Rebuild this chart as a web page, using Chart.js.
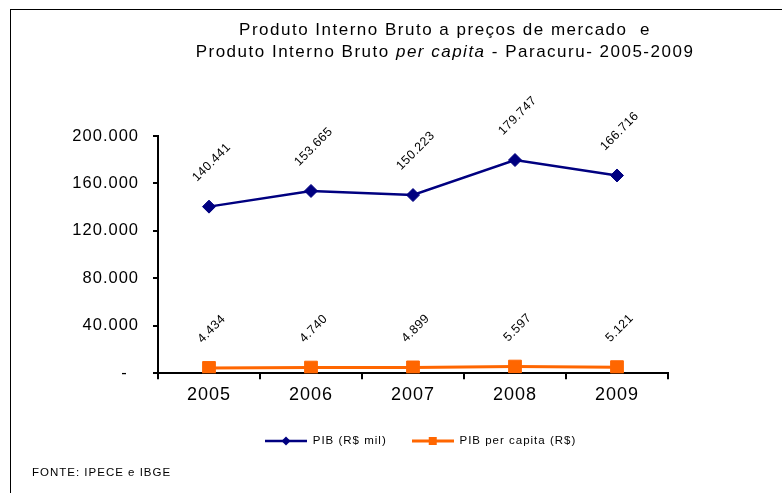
<!DOCTYPE html>
<html>
<head>
<meta charset="utf-8">
<script src="https://cdn.jsdelivr.net/npm/chart.js@4.4.1/dist/chart.umd.min.js"></script>
<style>
html,body{margin:0;padding:0;background:#fff;}
#wrap{position:relative;width:782px;height:493px;overflow:hidden;}
#frame{position:absolute;left:10px;top:9px;width:800px;height:500px;border-top:1.5px solid #000;border-left:1.5px solid #000;pointer-events:none;}
canvas{position:absolute;left:0;top:0;}
</style>
</head>
<body>
<div id="wrap"><canvas id="c" width="782" height="493"></canvas><div id="frame"></div></div>
<script>
// ---- data ----
const years = ['2005', '2006', '2007', '2008', '2009'];
const pibValues = [140441, 153665, 150223, 179747, 166716];
const perCapitaValues = [4434, 4740, 4899, 5597, 5121];
const seriesNames = ['PIB (R$ mil)', 'PIB per capita (R$)'];
const yTickValues = [0, 40000, 80000, 120000, 160000, 200000];
const titleLine1 = 'Produto Interno Bruto a preços de mercado  e';
const titleLine2a = 'Produto Interno Bruto ';
const titleLine2b = 'per capita';
const titleLine2c = ' - Paracuru- 2005-2009';
const sourceText = 'FONTE: IPECE e IBGE';

// ---- styling ----
const FONT = '"Liberation Sans", Arial, Helvetica, sans-serif';
const NAVY = '#000080';
const ORANGE = '#FF6600';

function fmt(v) {
  if (v === 0) return '-  ';
  return String(v).replace(/\B(?=(\d{3})+(?!\d))/g, '.');
}

function makeMarker(color, lw, shape) {
  const c = document.createElement('canvas');
  c.width = 42; c.height = 12;
  const g = c.getContext('2d');
  g.strokeStyle = color; g.lineWidth = lw;
  g.beginPath(); g.moveTo(0, 6); g.lineTo(42, 6); g.stroke();
  g.fillStyle = color;
  g.beginPath();
  if (shape === 'diamond') {
    g.moveTo(21 - 4.5, 6); g.lineTo(21, 1.5); g.lineTo(21 + 4.5, 6); g.lineTo(21, 10.5);
  } else {
    g.rect(17, 2, 8, 8);
  }
  g.closePath(); g.fill();
  return c;
}
const markers = [makeMarker(NAVY, 2.5, 'diamond'), makeMarker(ORANGE, 3, 'square')];

const TITLE_CX = 445;
const TITLE_LH = 22.1;
const TITLE_PADTOP = 19;

const helperPlugin = {
  id: 'helper',
  afterLayout(chart) {
    const lg = chart.legend;
    if (lg) { lg.left = 240; lg.right = 240 + (lg.width || 400); }
    const tb = chart.titleBlock;
    if (tb && !tb._custom) {
      tb._custom = true;
      tb.draw = function () {
        const ctx = this.ctx;
        ctx.save();
        ctx.fillStyle = '#000';
        ctx.textBaseline = 'middle';
        ctx.textAlign = 'left';
        try { ctx.letterSpacing = '1.5px'; } catch (e) {}
        const lines = [
          [[titleLine1, false]],
          [[titleLine2a, false], [titleLine2b, true], [titleLine2c, false]]
        ];
        lines.forEach((segs, i) => {
          const y = this.top + TITLE_PADTOP + TITLE_LH * (i + 0.5);
          const fonts = segs.map(s => (s[1] ? 'italic ' : '') + '17px ' + FONT);
          let total = 0;
          segs.forEach((s, j) => { ctx.font = fonts[j]; total += ctx.measureText(s[0]).width; });
          let x = TITLE_CX - total / 2;
          segs.forEach((s, j) => { ctx.font = fonts[j]; ctx.fillText(s[0], x, y); x += ctx.measureText(s[0]).width; });
        });
        ctx.restore();
      };
    }
  },
  beforeDraw(chart) {
    try { chart.ctx.letterSpacing = '1px'; } catch (e) {}
  },
  afterDatasetsDraw(chart) {
    const ctx = chart.ctx;
    ctx.save();
    const fs = 12.5;
    ctx.font = fs + 'px ' + FONT;
    ctx.fillStyle = '#000';
    ctx.textAlign = 'center';
    ctx.textBaseline = 'middle';
    try { ctx.letterSpacing = '0.5px'; } catch (e) {}
    chart.data.datasets.forEach((ds, di) => {
      const meta = chart.getDatasetMeta(di);
      meta.data.forEach((pt, i) => {
        const txt = fmt(ds.data[i]);
        const w = ctx.measureText(txt).width;
        const half = (w + 0.716 * fs) * Math.SQRT1_2 / 2;
        const cx = pt.x + 2;
        const cy = pt.y - 24.5 - half;
        ctx.save();
        ctx.translate(cx, cy);
        ctx.rotate(-Math.PI / 4);
        ctx.fillText(txt, 0, 1);
        ctx.restore();
      });
    });
    ctx.restore();
  },
  afterDraw(chart) {
    try { chart.ctx.letterSpacing = '0px'; } catch (e) {}
  }
};

new Chart(document.getElementById('c'), {
  type: 'line',
  data: {
    labels: years,
    datasets: [
      {
        label: seriesNames[0],
        data: pibValues,
        borderColor: NAVY,
        backgroundColor: NAVY,
        borderWidth: 2.5,
        pointStyle: 'rectRot',
        pointRadius: 6.5,
        pointBackgroundColor: NAVY,
        pointBorderColor: NAVY,
        pointBorderWidth: 1,
        tension: 0,
        fill: false
      },
      {
        label: seriesNames[1],
        data: perCapitaValues,
        borderColor: ORANGE,
        backgroundColor: ORANGE,
        borderWidth: 3,
        pointStyle: 'rect',
        pointRadius: 9,
        pointBackgroundColor: ORANGE,
        pointBorderColor: ORANGE,
        pointBorderWidth: 1,
        tension: 0,
        fill: false
      }
    ]
  },
  options: {
    responsive: false,
    animation: false,
    devicePixelRatio: 1,
    layout: { padding: { left: 32, right: 114, top: 0, bottom: 13 } },
    scales: {
      x: {
        type: 'category',
        offset: true,
        grid: { offset: true, drawOnChartArea: false, drawTicks: true, tickLength: 6, color: '#000', lineWidth: 2 },
        border: { display: true, color: '#000', width: 2 },
        ticks: { color: '#000', font: { family: FONT, size: 18 }, padding: 5, maxRotation: 0, autoSkip: false },
        afterFit(s) { s.height = 37; }
      },
      y: {
        type: 'linear',
        min: 0,
        max: 200000,
        grid: { drawOnChartArea: false, drawTicks: true, tickLength: 5, color: '#000', lineWidth: 2 },
        border: { display: true, color: '#000', width: 2 },
        ticks: { color: '#000', font: { family: FONT, size: 16.5 }, padding: 14, stepSize: 40000, callback: (v) => fmt(v) },
        afterBuildTicks(s) { s.ticks = yTickValues.map(v => ({ value: v })); },
        afterFit(s) { s.width = 126; }
      }
    },
    plugins: {
      title: {
        display: true,
        text: [titleLine1, titleLine2a + titleLine2b + titleLine2c],
        font: { family: FONT, size: 17, weight: 'normal', lineHeight: 1.3 },
        color: '#000',
        padding: { top: TITLE_PADTOP, bottom: 72.8 }
      },
      subtitle: {
        display: true,
        text: sourceText,
        position: 'bottom',
        align: 'start',
        font: { family: FONT, size: 11.5, weight: 'normal', lineHeight: 1.2 },
        color: '#000',
        padding: { top: 9.5, bottom: 0 }
      },
      legend: {
        display: true,
        position: 'bottom',
        align: 'start',
        labels: {
          usePointStyle: true,
          pointStyleWidth: 42,
          padding: 25,
          color: '#000',
          font: { family: FONT, size: 11.5 },
          generateLabels(chart) {
            return chart.data.datasets.map((ds, i) => ({
              text: ds.label,
              pointStyle: markers[i],
              fillStyle: ds.borderColor,
              strokeStyle: ds.borderColor,
              lineWidth: 0,
              hidden: false,
              datasetIndex: i,
              fontColor: '#000'
            }));
          }
        }
      },
      tooltip: { enabled: false }
    }
  },
  plugins: [helperPlugin]
});
</script>
</body>
</html>
